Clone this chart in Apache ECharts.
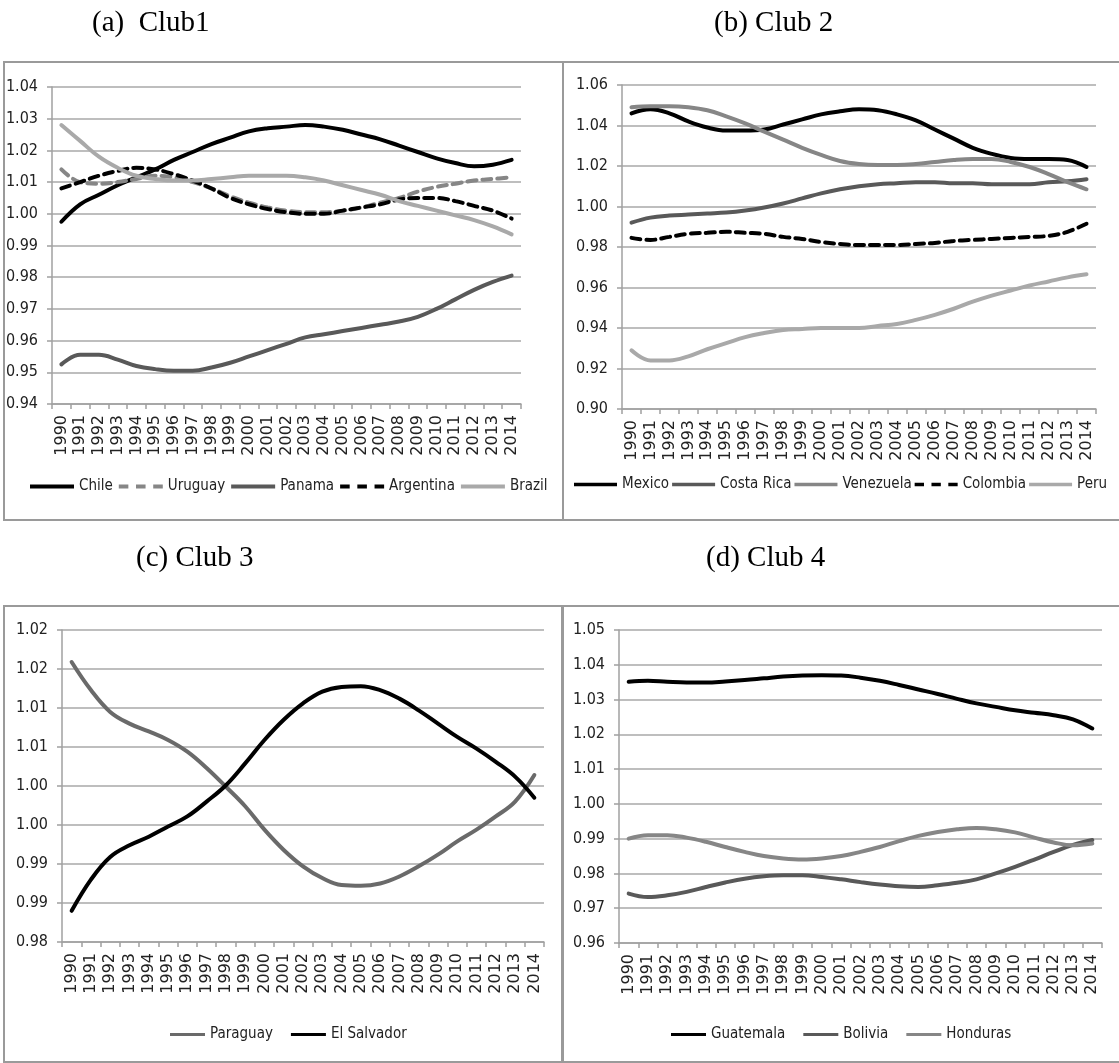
<!DOCTYPE html>
<html>
<head>
<meta charset="utf-8">
<script src="https://cdn.jsdelivr.net/npm/echarts@6/dist/echarts.min.js"></script>
<style>
html,body{margin:0;padding:0;background:#fff;}
#chart{width:1119px;height:1063px;}
</style>
</head>
<body>
<div id="chart"></div>
<script>
// ---------- data ----------
const years = ['1990','1991','1992','1993','1994','1995','1996','1997','1998','1999','2000','2001','2002','2003','2004','2005','2006','2007','2008','2009','2010','2011','2012','2013','2014'];

// (a) Club1
const chile     = [0.9975,1.003,1.006,1.009,1.0115,1.014,1.017,1.0195,1.022,1.024,1.026,1.027,1.0275,1.028,1.0275,1.0265,1.025,1.0235,1.0215,1.0195,1.0175,1.016,1.015,1.0155,1.017];
const uruguay   = [1.014,1.010,1.0095,1.010,1.011,1.012,1.0115,1.010,1.008,1.0055,1.0035,1.002,1.001,1.0005,1.0005,1.001,1.002,1.0035,1.005,1.007,1.0085,1.0095,1.0105,1.011,1.0115];
const panama    = [0.9525,0.9555,0.9555,0.954,0.952,0.951,0.9505,0.9505,0.9515,0.953,0.955,0.957,0.959,0.961,0.962,0.963,0.964,0.965,0.966,0.9675,0.970,0.973,0.976,0.9785,0.9805];
const argentina = [1.008,1.010,1.012,1.0135,1.0145,1.014,1.0125,1.0105,1.008,1.005,1.003,1.0015,1.0005,1.000,1.000,1.001,1.002,1.003,1.0045,1.005,1.005,1.004,1.0025,1.001,0.9985];
const brazil    = [1.028,1.023,1.018,1.0145,1.012,1.011,1.0105,1.0105,1.011,1.0115,1.012,1.012,1.012,1.0115,1.0105,1.009,1.0075,1.006,1.004,1.0025,1.001,0.9995,0.998,0.996,0.9935];

// (b) Club 2
const mexico    = [1.046,1.048,1.046,1.042,1.039,1.0375,1.0375,1.038,1.0405,1.043,1.0455,1.047,1.048,1.0475,1.0455,1.0425,1.038,1.0335,1.029,1.026,1.024,1.0235,1.0235,1.023,1.0195];
const costaRica = [0.992,0.9945,0.9955,0.996,0.9965,0.997,0.998,0.9995,1.0015,1.004,1.0065,1.0085,1.010,1.011,1.0115,1.012,1.012,1.0115,1.0115,1.011,1.011,1.011,1.012,1.0125,1.0135];
const venezuela = [1.049,1.0495,1.0495,1.049,1.0475,1.0445,1.041,1.037,1.033,1.029,1.0255,1.0225,1.021,1.0205,1.0205,1.021,1.022,1.023,1.0235,1.0235,1.022,1.0195,1.016,1.012,1.0085];
const colombia  = [0.9845,0.9835,0.985,0.9865,0.987,0.9875,0.987,0.9865,0.985,0.984,0.9825,0.9815,0.981,0.981,0.981,0.9815,0.982,0.983,0.9835,0.984,0.9845,0.985,0.9855,0.9875,0.9915];
const peru      = [0.929,0.924,0.924,0.926,0.9295,0.9325,0.9355,0.9375,0.939,0.9395,0.940,0.940,0.940,0.941,0.942,0.944,0.9465,0.9495,0.953,0.956,0.9585,0.961,0.963,0.965,0.9665];

// (c) Club 3
const paraguay   = [1.0159,1.0123,1.0095,1.008,1.007,1.0059,1.0044,1.0023,0.9999,0.9974,0.9944,0.9918,0.9897,0.9882,0.9873,0.9872,0.9875,0.9884,0.9897,0.9912,0.9929,0.9944,0.9961,0.998,1.0014];
const elSalvador = [0.984,0.988,0.9909,0.9924,0.9935,0.9948,0.9961,0.998,1.0001,1.0029,1.0059,1.0085,1.0106,1.0121,1.0127,1.0128,1.0123,1.0112,1.0097,1.008,1.0063,1.0048,1.0031,1.0012,0.9985];

// (d) Club 4
const guatemala = [1.0351,1.0354,1.0351,1.0349,1.0349,1.0352,1.0356,1.0361,1.0366,1.0369,1.037,1.0369,1.0363,1.0354,1.0342,1.0329,1.0316,1.0302,1.0289,1.0279,1.0269,1.0262,1.0255,1.0243,1.0217];
const bolivia   = [0.9742,0.9732,0.9737,0.9747,0.9761,0.9774,0.9785,0.9792,0.9795,0.9795,0.979,0.9783,0.9775,0.9768,0.9763,0.9761,0.9766,0.9773,0.9783,0.98,0.9819,0.984,0.9862,0.9882,0.9896];
const honduras  = [0.990,0.991,0.991,0.9903,0.9891,0.9876,0.9862,0.985,0.9843,0.984,0.9843,0.985,0.9862,0.9876,0.9893,0.9908,0.9919,0.9927,0.9931,0.9927,0.9918,0.9903,0.9889,0.9881,0.9886];

// tick labels
const yTicksA = ['0.94','0.95','0.96','0.97','0.98','0.99','1.00','1.01','1.02','1.03','1.04'];
const yTicksB = ['0.90','0.92','0.94','0.96','0.98','1.00','1.02','1.04','1.06'];
const yTicksC = ['0.98','0.99','0.99','1.00','1.00','1.01','1.01','1.02','1.02'];
const yTicksD = ['0.96','0.97','0.98','0.99','1.00','1.01','1.02','1.03','1.04','1.05'];

const titles = ['(a)  Club1','(b) Club 2','(c) Club 3','(d) Club 4'];

// ---------- styling ----------
const BLACK = '#000000', DARK = '#595959', MID = '#868686', LIGHT = '#a9a9a9', PAR = '#6a6a6a';
const LW = 4;
const GRIDC = '#a8a8a8';
const TXT = '#222222';
const ICON_SOLID = 'path://M0,0H46V4H0Z';
const ICON_DASH = 'path://M0,0H10V4H0ZM18,0H28V4H18ZM36,0H46V4H36Z';

const panels = [
  {grid:{left:52, top:87, width:469, height:317}, min:0.94, max:1.04, interval:0.01, ticks:yTicksA,
   legend:{left:30, top:479, itemWidth:44, itemGap:6},
   series:[
     {name:'Chile', data:chile, color:BLACK},
     {name:'Uruguay', data:uruguay, color:MID, dash:true},
     {name:'Panama', data:panama, color:DARK},
     {name:'Argentina', data:argentina, color:BLACK, dash:true},
     {name:'Brazil', data:brazil, color:LIGHT}
   ]},
  {grid:{left:622, top:85, width:474, height:324}, min:0.90, max:1.06, interval:0.02, ticks:yTicksB,
   legend:{left:574, top:477, itemWidth:43, itemGap:3},
   series:[
     {name:'Mexico', data:mexico, color:BLACK},
     {name:'Costa Rica', data:costaRica, color:DARK},
     {name:'Venezuela', data:venezuela, color:MID},
     {name:'Colombia', data:colombia, color:BLACK, dash:true},
     {name:'Peru', data:peru, color:LIGHT}
   ]},
  {grid:{left:62, top:630, width:482, height:312}, min:0.98, max:1.02, interval:0.005, ticks:yTicksC,
   legend:{left:170, top:1027, itemWidth:35, itemGap:18},
   series:[
     {name:'Paraguay', data:paraguay, color:PAR},
     {name:'El Salvador', data:elSalvador, color:BLACK}
   ]},
  {grid:{left:619, top:630, width:483, height:313}, min:0.96, max:1.05, interval:0.01, ticks:yTicksD,
   legend:{left:671, top:1027, itemWidth:35, itemGap:18},
   series:[
     {name:'Guatemala', data:guatemala, color:BLACK},
     {name:'Bolivia', data:bolivia, color:DARK},
     {name:'Honduras', data:honduras, color:MID}
   ]}
];

const option = {
  backgroundColor:'#ffffff',
  animation:false,
  title: titles.map((t,i)=>({
    text:t, padding:0,
    left:[92,714,136,706][i],
    top:[9,9,544,544][i],
    textStyle:{fontFamily:'Liberation Serif', fontSize:29, fontWeight:'normal', color:'#000'}
  })),
  grid: panels.map(p=>p.grid),
  legend: panels.map((p,i)=>({
    left:p.legend.left, top:p.legend.top, width:1100, orient:'horizontal', padding:0,
    itemWidth:p.legend.itemWidth, itemHeight:4, itemGap:p.legend.itemGap,
    data: p.series.map(s=>({name:s.name, icon: s.dash ? ICON_DASH : ICON_SOLID})),
    textStyle:{fontFamily:'DejaVu Sans Condensed', fontSize:15, color:TXT},
    selectedMode:false
  })),
  xAxis: panels.map((p,i)=>({
    gridIndex:i, type:'category', data:years, boundaryGap:true,
    axisLine:{lineStyle:{color:'#a0a0a0', width:1.5}},
    axisTick:{show:true, interval:0, length:5, lineStyle:{color:'#a0a0a0', width:1.5}},
    axisLabel:{interval:0, rotate:90, margin:11, fontFamily:'DejaVu Sans', fontSize:16, color:TXT},
    splitLine:{show:false}
  })),
  yAxis: panels.map((p,i)=>({
    gridIndex:i, type:'value', min:p.min, max:p.max, interval:p.interval,
    axisLine:{show:true, lineStyle:{color:'#a0a0a0', width:1.5}},
    axisTick:{show:true, length:5, lineStyle:{color:'#a0a0a0', width:1.5}},
    axisLabel:{margin:14, fontFamily:'DejaVu Sans Condensed', fontSize:16, color:TXT,
      formatter:(v)=>p.ticks[Math.round((v-p.min)/p.interval)]},
    splitLine:{show:true, lineStyle:{color:GRIDC, width:1.5}}
  })),
  series: [],
  graphic: [
    {type:'rect', shape:{x:4, y:62, width:559, height:458}, style:{fill:'none', stroke:'#9a9a9a', lineWidth:2}, silent:true},
    {type:'rect', shape:{x:563, y:62, width:560, height:458}, style:{fill:'none', stroke:'#9a9a9a', lineWidth:2}, silent:true},
    {type:'rect', shape:{x:4, y:606, width:559, height:456}, style:{fill:'none', stroke:'#9a9a9a', lineWidth:2}, silent:true},
    {type:'rect', shape:{x:562, y:606, width:561, height:456}, style:{fill:'none', stroke:'#9a9a9a', lineWidth:2}, silent:true}
  ]
};

panels.forEach((p,i)=>{
  p.series.forEach(s=>{
    option.series.push({
      name:s.name, type:'line', xAxisIndex:i, yAxisIndex:i,
      data:s.data, smooth:0.4, symbol:'none', showSymbol:false,
      color:s.color,
      lineStyle:{color:s.color, width:LW, type: s.dash ? [9,6] : 'solid', cap:'round'}
    });
  });
});

const chart = echarts.init(document.getElementById('chart'), null, {renderer:'canvas'});
chart.setOption(option);
</script>
</body>
</html>
